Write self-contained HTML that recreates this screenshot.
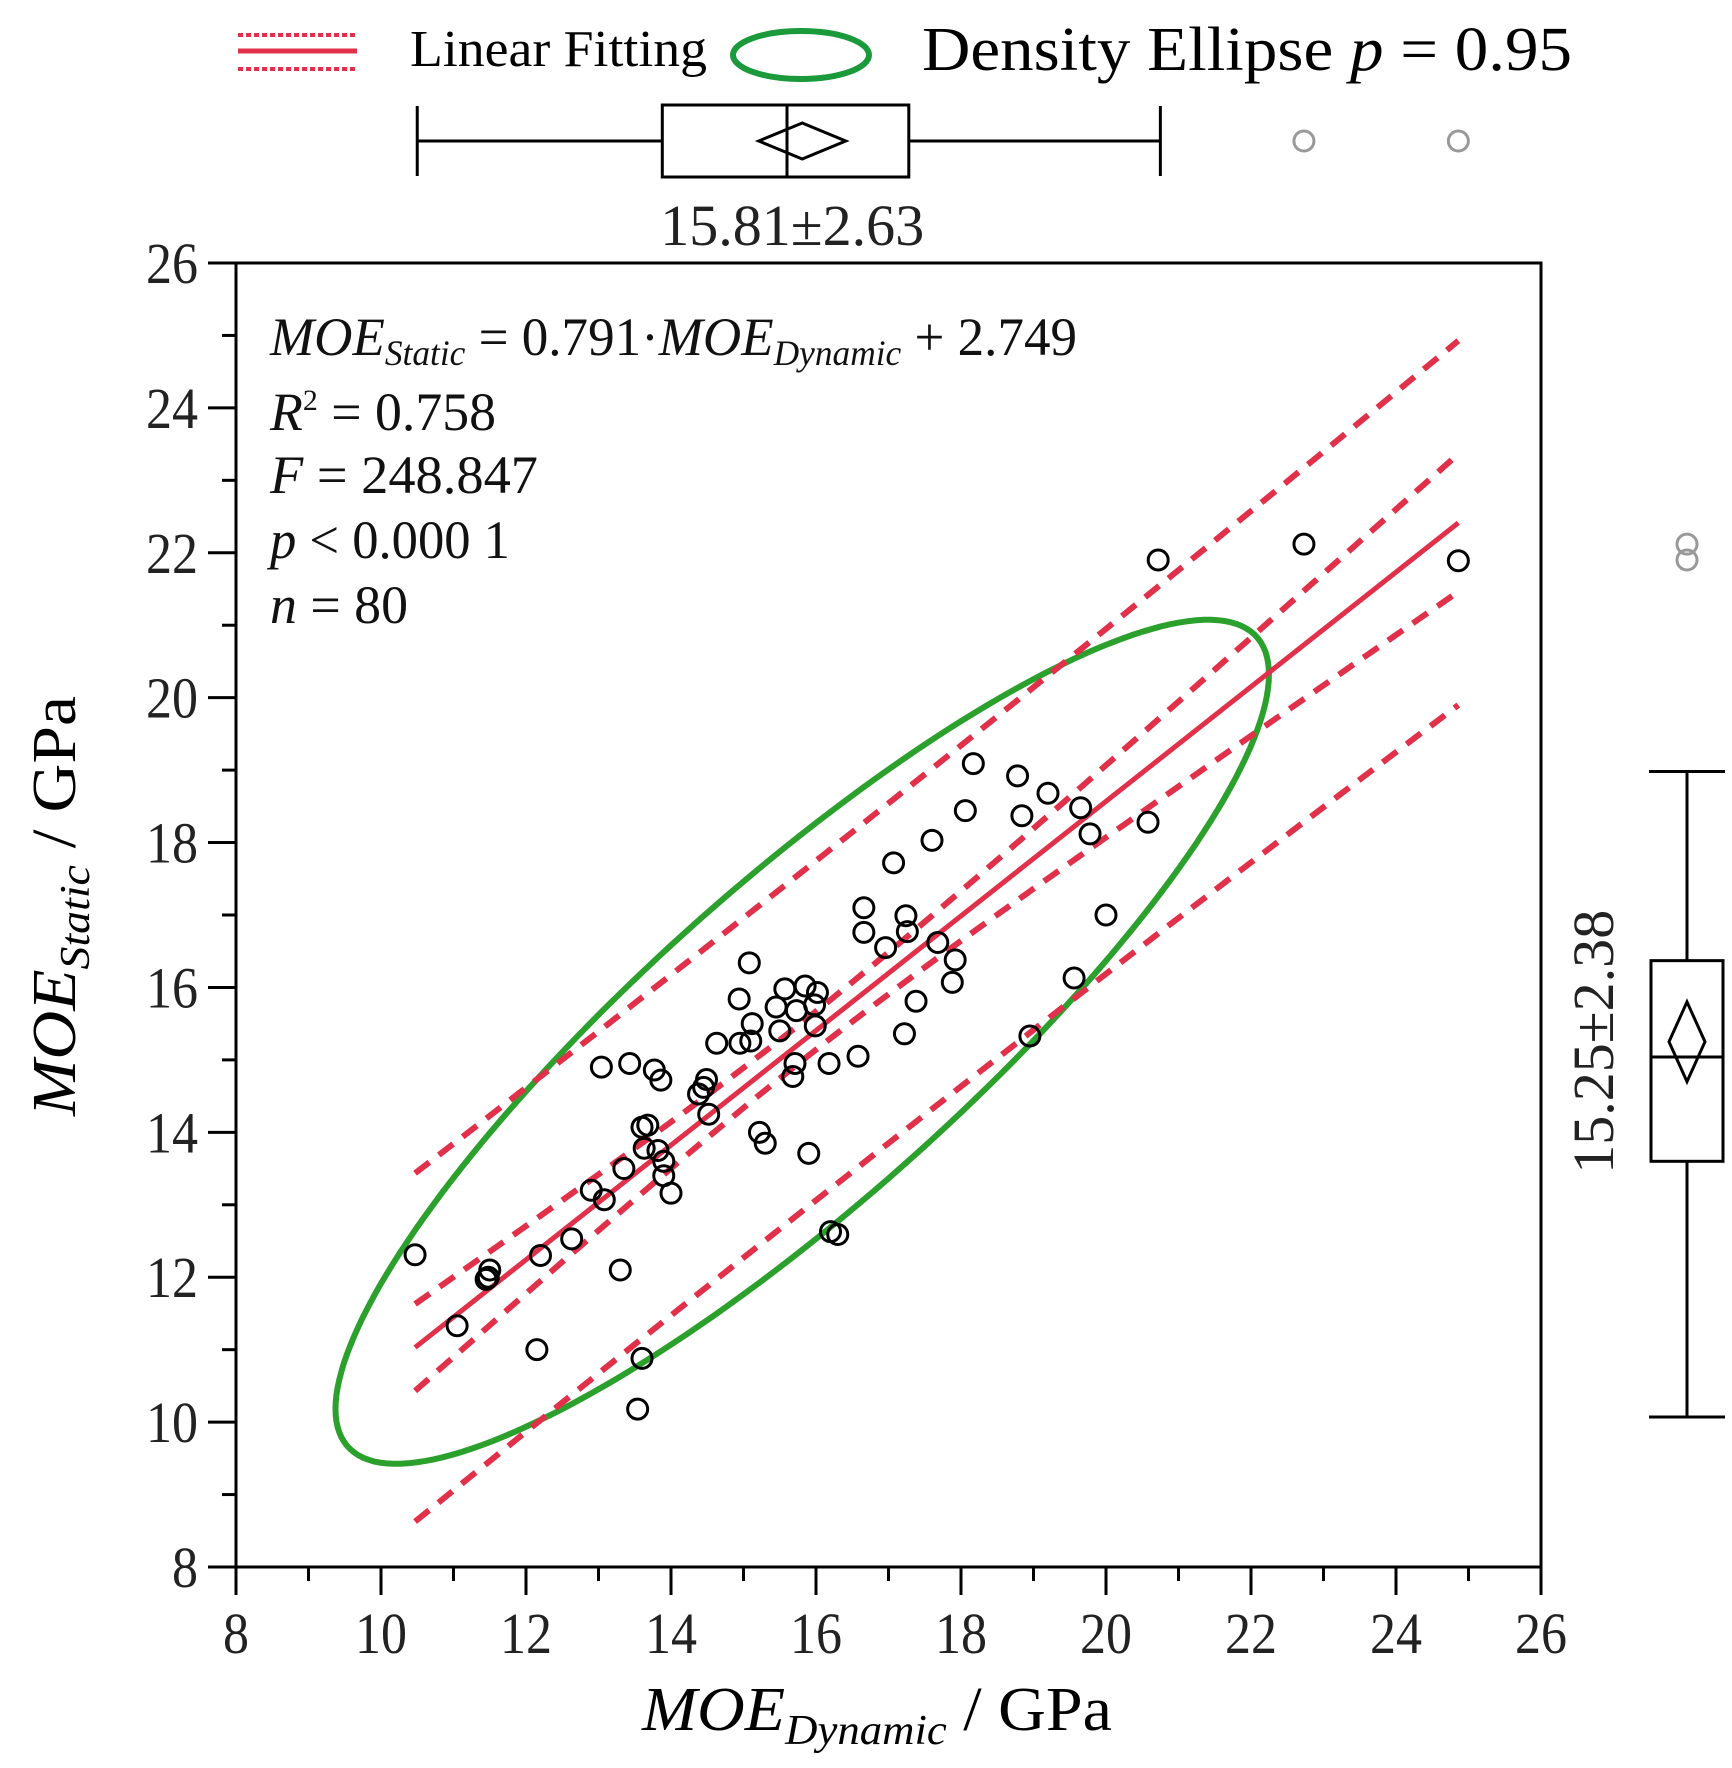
<!DOCTYPE html>
<html><head><meta charset="utf-8"><style>
html,body{margin:0;padding:0;background:#fff;}
svg{display:block;font-family:"Liberation Serif",serif;}
</style></head><body>
<svg id="chart" width="1732" height="1768" viewBox="0 0 1732 1768" xmlns="http://www.w3.org/2000/svg"></svg>
<script>
const xTicks=[8,10,12,14,16,18,20,22,24,26];
const yTicks=[8,10,12,14,16,18,20,22,24,26];
const xs=[10.47,11.05,11.45,11.5,12.15,12.2,12.63,12.9,13.08,13.04,13.3,13.35,13.43,13.54,13.6,13.6,13.68,13.63,13.77,13.86,13.82,13.9,13.9,14.0,14.38,14.49,14.52,14.63,14.94,14.95,15.08,15.1,15.12,15.22,15.3,15.45,15.5,15.68,15.71,15.73,15.85,15.9,15.99,16.02,15.98,16.18,16.2,16.3,16.58,16.66,16.66,16.96,17.07,17.22,17.24,17.26,17.38,17.6,17.68,17.88,17.92,18.06,18.17,18.78,18.84,18.95,19.2,19.56,19.65,19.78,20.0,20.58,20.72,22.73,24.86,15.57,14.45,11.48];
const ys=[12.31,11.33,11.97,12.1,11.0,12.3,12.53,13.2,13.07,14.9,12.1,13.5,14.95,10.18,10.88,14.07,14.1,13.78,14.86,14.72,13.75,13.6,13.4,13.16,14.53,14.73,14.25,15.23,15.84,15.23,16.34,15.26,15.5,14.0,13.85,15.73,15.4,14.77,14.95,15.68,16.02,13.71,15.47,15.93,15.76,14.95,12.63,12.59,15.05,17.1,16.76,16.55,17.72,15.36,16.99,16.77,15.81,18.03,16.62,16.07,16.38,18.44,19.09,18.92,18.37,15.33,18.68,16.13,18.48,18.12,17.0,18.28,21.9,22.12,21.89,15.98,14.62,12.0];
const fitSlope=0.791, fitIntercept=2.749;
const xStats=[15.81,2.63]; const yStats=[15.25,2.38]; const corr=[0.87];
const xBox=[10.5,13.88,15.6,17.28,20.75]; const xOutliers=[22.73,24.86];
const yBox=[10.07,13.6,15.04,16.37,18.98]; const yOutliers=[22.12,21.9];

const L=236,R=1541,T=263,B=1567;
const sx=v=>L+(v-8)/18*(R-L);
const sy=v=>B-(v-8)/18*(B-T);
const svg=document.getElementById('chart');
const NS='http://www.w3.org/2000/svg';
function mk(tag,attrs,parent){const e=document.createElementNS(NS,tag);for(const k in attrs)e.setAttribute(k,attrs[k]);(parent||svg).appendChild(e);return e;}

let fr=mk('rect',{x:L,y:T,width:R-L,height:B-T,fill:'none',stroke:'#000','stroke-width':3});


for(let v=8;v<=26;v+=1){
  const major=v%2===0;
  let t=mk('line',{x1:sx(v),x2:sx(v),y1:B,y2:B+(major?28:14),stroke:'#000','stroke-width':3});
  
  
  let t2=mk('line',{x1:L,x2:L-(major?28:14),y1:sy(v),y2:sy(v),stroke:'#000','stroke-width':3});
  
  
}
xTicks.forEach(v=>{const s=String(v);let t=mk('text',{x:sx(v),y:B+86,'text-anchor':'middle','font-size':58,fill:'#222',textLength:s.length*26,lengthAdjust:'spacingAndGlyphs'});t.textContent=s;
  
  });
yTicks.forEach(v=>{const s=String(v);let t=mk('text',{x:L-38,y:sy(v)+20,'text-anchor':'end','font-size':58,fill:'#222',textLength:s.length*26,lengthAdjust:'spacingAndGlyphs'});t.textContent=s;
  
  });

(function(){
  const [mx,sdx]=xStats,[my,sdy]=yStats,r=corr[0],k=Math.sqrt(5.991);
  let d='';
  for(let i=0;i<=200;i++){const a=i/200*2*Math.PI;
    const u=Math.cos(a),w=Math.sin(a);
    const x=mx+k*sdx*u, y=my+k*sdy*(r*u+Math.sqrt(1-r*r)*w);
    d+=(i?'L':'M')+sx(x).toFixed(1)+','+sy(y).toFixed(1);}
  let e=mk('path',{d:d+'Z',fill:'none',stroke:'#2ca02c','stroke-width':6});
  
  
})();

(function(){
  const x0=Math.min(...xs),x1=Math.max(...xs),mx=xStats[0],sdx=xStats[1],n=xs.length;
  const s=1.17,t=1.99,sxx=(n-1)*sdx*sdx;
  const f=x=>fitSlope*x+fitIntercept;
  const ci=x=>t*s*Math.sqrt(1/n+(x-mx)*(x-mx)/sxx);
  const pi=x=>t*s*Math.sqrt(1+1/n+(x-mx)*(x-mx)/sxx);
  const band=(fn)=>{let d='';for(let i=0;i<=50;i++){const x=x0+(x1-x0)*i/50;d+=(i?'L':'M')+sx(x).toFixed(1)+','+sy(fn(x)).toFixed(1);}return d;};
  [[x=>f(x)+pi(x),'prediction-band-upper'],[x=>f(x)-pi(x),'prediction-band-lower'],[x=>f(x)+ci(x),'confidence-band-upper'],[x=>f(x)-ci(x),'confidence-band-lower']].forEach(([fn,nm])=>{
    let p=mk('path',{d:band(fn),fill:'none',stroke:'#e0304a','stroke-width':6,'stroke-dasharray':'18,12'});
    
    
  });
  let l=mk('line',{x1:sx(x0),y1:sy(f(x0)),x2:sx(x1),y2:sy(f(x1)),stroke:'#e0304a','stroke-width':5});
  
  
})();

xs.forEach((x,i)=>{let c=mk('circle',{cx:sx(x),cy:sy(ys[i]),r:10,fill:'none',stroke:'#000','stroke-width':3});
  
  });

(function(){
  const cy=141,h=36,g=mk('g',{});
  
  
  mk('line',{x1:sx(xBox[0]),x2:sx(xBox[1]),y1:cy,y2:cy,stroke:'#000','stroke-width':3},g);
  mk('line',{x1:sx(xBox[3]),x2:sx(xBox[4]),y1:cy,y2:cy,stroke:'#000','stroke-width':3},g);
  mk('line',{x1:sx(xBox[0]),x2:sx(xBox[0]),y1:cy-35,y2:cy+35,stroke:'#000','stroke-width':3},g);
  mk('line',{x1:sx(xBox[4]),x2:sx(xBox[4]),y1:cy-35,y2:cy+35,stroke:'#000','stroke-width':3},g);
  mk('rect',{x:sx(xBox[1]),y:cy-h,width:sx(xBox[3])-sx(xBox[1]),height:2*h,fill:'none',stroke:'#000','stroke-width':3},g);
  mk('line',{x1:sx(xBox[2]),x2:sx(xBox[2]),y1:cy-h,y2:cy+h,stroke:'#000','stroke-width':3},g);
  const m=xStats[0],dw=0.6;
  mk('polygon',{points:`${sx(m-dw)},${cy} ${sx(m)},${cy-18} ${sx(m+dw)},${cy} ${sx(m)},${cy+18}`,fill:'none',stroke:'#000','stroke-width':3},g);
  xOutliers.forEach(v=>mk('circle',{cx:sx(v),cy:cy,r:10,fill:'none',stroke:'#999','stroke-width':3},g));
  let t=mk('text',{x:sx(m)-10,y:245,'text-anchor':'middle','font-size':58,fill:'#222',textLength:264,lengthAdjust:'spacingAndGlyphs'});
  t.textContent=xStats[0].toFixed(2)+'±'+xStats[1].toFixed(2);
  
  
})();
(function(){
  const cx=1687,w=36,g=mk('g',{});
  
  
  mk('line',{x1:cx,x2:cx,y1:sy(yBox[0]),y2:sy(yBox[1]),stroke:'#000','stroke-width':3},g);
  mk('line',{x1:cx,x2:cx,y1:sy(yBox[3]),y2:sy(yBox[4]),stroke:'#000','stroke-width':3},g);
  mk('line',{x1:cx-38,x2:cx+38,y1:sy(yBox[0]),y2:sy(yBox[0]),stroke:'#000','stroke-width':3},g);
  mk('line',{x1:cx-38,x2:cx+38,y1:sy(yBox[4]),y2:sy(yBox[4]),stroke:'#000','stroke-width':3},g);
  mk('rect',{x:cx-w,y:sy(yBox[3]),width:2*w,height:sy(yBox[1])-sy(yBox[3]),fill:'none',stroke:'#000','stroke-width':3},g);
  mk('line',{x1:cx-w,x2:cx+w,y1:sy(yBox[2]),y2:sy(yBox[2]),stroke:'#000','stroke-width':3},g);
  const m=yStats[0],dh=0.55;
  mk('polygon',{points:`${cx},${sy(m+dh)} ${cx+18},${sy(m)} ${cx},${sy(m-dh)} ${cx-18},${sy(m)}`,fill:'none',stroke:'#000','stroke-width':3},g);
  yOutliers.forEach(v=>mk('circle',{cx:cx,cy:sy(v),r:10,fill:'none',stroke:'#999','stroke-width':3},g));
  let t=mk('text',{x:0,y:0,'text-anchor':'middle','font-size':58,fill:'#222',textLength:264,lengthAdjust:'spacingAndGlyphs',transform:`translate(1613,${sy(m)}) rotate(-90)`});
  t.textContent=yStats[0].toFixed(2)+'±'+yStats[1].toFixed(2);
  
  
})();
</script>
<svg style="position:absolute;left:0;top:0" width="1732" height="1768" xmlns="http://www.w3.org/2000/svg" font-family="Liberation Serif, serif">
  <g>
    <line x1="238" x2="357" y1="35" y2="35" stroke="#e0304a" stroke-width="4" stroke-dasharray="5,3"/>
    <line x1="238" x2="357" y1="51" y2="51" stroke="#e0304a" stroke-width="5"/>
    <line x1="238" x2="357" y1="69" y2="69" stroke="#e0304a" stroke-width="4" stroke-dasharray="5,3"/>
    <text x="410" y="66" font-size="52" textLength="297" lengthAdjust="spacingAndGlyphs">Linear Fitting</text>
    <ellipse cx="801" cy="55" rx="68" ry="24" fill="none" stroke="#1a9a3a" stroke-width="6"/>
    <text x="922" y="70" font-size="62" textLength="650" lengthAdjust="spacingAndGlyphs">Density Ellipse <tspan font-style="italic">p</tspan> = 0.95</text>
  </g>
  <g font-size="54" fill="#111">
    <text x="270" y="355" textLength="807" lengthAdjust="spacingAndGlyphs"><tspan font-style="italic">MOE</tspan><tspan font-style="italic" font-size="36" dy="10">Static</tspan><tspan dy="-10"> = 0.791·</tspan><tspan font-style="italic">MOE</tspan><tspan font-style="italic" font-size="36" dy="10">Dynamic</tspan><tspan dy="-10"> + 2.749</tspan></text>
    <text x="270" y="430" textLength="226" lengthAdjust="spacingAndGlyphs"><tspan font-style="italic">R</tspan><tspan font-size="30" dy="-20">2</tspan><tspan dy="20"> = 0.758</tspan></text>
    <text x="270" y="493" textLength="268" lengthAdjust="spacingAndGlyphs"><tspan font-style="italic">F</tspan> = 248.847</text>
    <text x="270" y="558" textLength="240" lengthAdjust="spacingAndGlyphs"><tspan font-style="italic">p</tspan> &lt; 0.000 1</text>
    <text x="270" y="623" textLength="138" lengthAdjust="spacingAndGlyphs"><tspan font-style="italic">n</tspan> = 80</text>
  </g>
  <text x="877" y="1730" text-anchor="middle" font-size="62" textLength="470" lengthAdjust="spacingAndGlyphs"><tspan font-style="italic">MOE</tspan><tspan font-style="italic" font-size="42" dy="14">Dynamic</tspan><tspan dy="-14"> / GPa</tspan></text>
  <text x="0" y="0" transform="translate(75,906) rotate(-90)" text-anchor="middle" font-size="62" textLength="420" lengthAdjust="spacingAndGlyphs"><tspan font-style="italic">MOE</tspan><tspan font-style="italic" font-size="42" dy="14">Static</tspan><tspan dy="-14"> / GPa</tspan></text>
</svg>
</body></html>
